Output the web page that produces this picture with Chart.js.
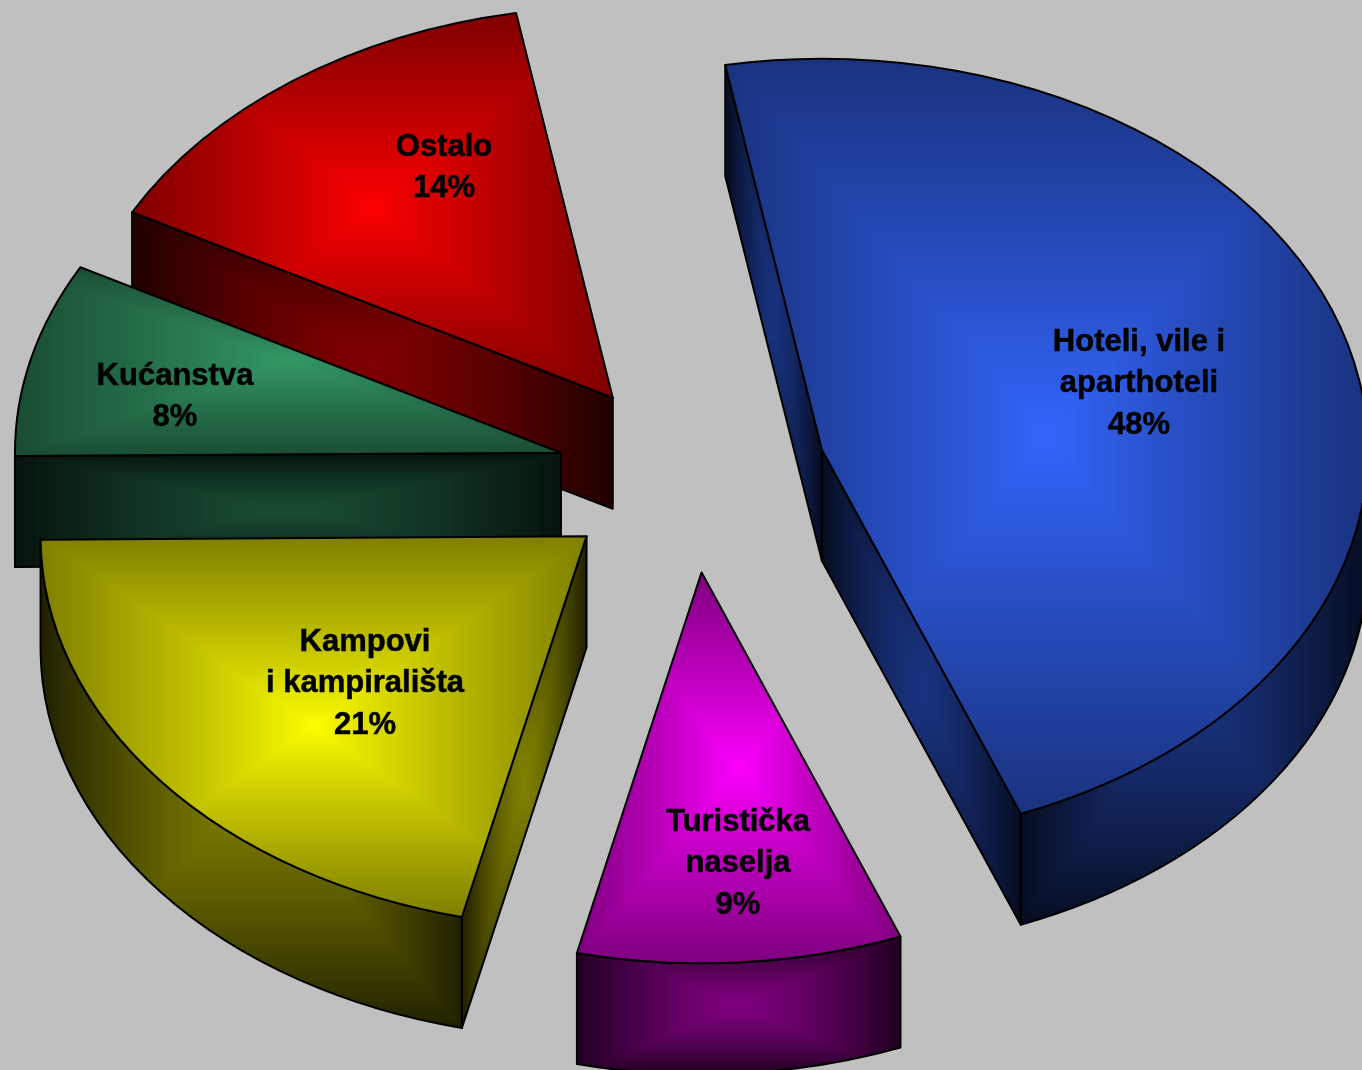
<!DOCTYPE html>
<html lang="hr">
<head>
<meta charset="utf-8">
<title>Struktura smještajnih kapaciteta</title>
<script src="https://cdn.jsdelivr.net/npm/chart.js@4"></script>
<style>
  html, body { margin: 0; padding: 0; background: #C0C0C0; }
  canvas { display: block; }
</style>
</head>
<body>
<canvas id="pie3d" width="1362" height="1070"></canvas>
<script>
// Podaci, redom kazaljke na satu od gornjeg ruba Hotela
var categories = [
  ['Hoteli, vile i', 'aparthoteli'],
  ['Turistička', 'naselja'],
  ['Kampovi', 'i kampirališta'],
  ['Kućanstva'],
  ['Ostalo']
];
// Postoci kako pišu na slici
var percentLabels = ['48%', '9%', '21%', '8%', '14%'];
// Veličine kriški izmjerene s crteža: na izvorniku se kutovi malo razlikuju od ispisanih postotaka
var sliceSizes = [46.9, 9.6, 21.2, 8.0, 14.3];
var sliceColors = ['#3366FF', '#FF00FF', '#FFFF00', '#339966', '#FF0000'];

// Redoslijed crtanja: straga prema naprijed
var drawOrder = [4, 3, 2, 1, 0];

// Prostor: sredina pite na slici, nagib, debljina i razmak kriški
var VIEW = { cx: 692, cy: 476, tilt: 0.716, depth: 111, explode: 135 };
var RADIUS = 546;
var ROTATION = -10.2;

// Sredina prvog retka svakog natpisa
var LABEL_FONT = 'bold 31px "Liberation Sans", Arial, sans-serif';
var LABEL_LEADING = 41.5;
var labelSpots = [[1139, 342], [738, 822], [365, 642], [175, 376], [444, 147]];

function scaleColor(hex, k) {
  var n = parseInt(hex.slice(1), 16);
  return [(n >> 16) & 255, (n >> 8) & 255, n & 255].map(function (c) { return c * k; });
}

// Pravokutni prijelaz "iz sredine" preko okvira lika
function shadeBox(ctx, box, inner, edge, ease) {
  var w = box.x1 - box.x0, h = box.y1 - box.y0;
  var mx = (box.x0 + box.x1) / 2, my = (box.y0 + box.y1) / 2;
  ctx.fillStyle = 'rgb(' + edge.join(',') + ')';
  ctx.fillRect(0, 0, ctx.canvas.width, ctx.canvas.height);
  var steps = 96;
  for (var i = steps - 1; i >= 0; i--) {
    var t = i / steps;
    var m = Math.pow(t, ease);
    var c = [0, 1, 2].map(function (j) { return Math.round(inner[j] + (edge[j] - inner[j]) * m); });
    ctx.fillStyle = 'rgb(' + c.join(',') + ')';
    ctx.fillRect(mx - t * w / 2, my - t * h / 2, t * w, t * h);
  }
}

function boxOf(points) {
  var xs = points.map(function (p) { return p[0]; });
  var ys = points.map(function (p) { return p[1]; });
  return { x0: Math.min.apply(null, xs), x1: Math.max.apply(null, xs), y0: Math.min.apply(null, ys), y1: Math.max.apply(null, ys) };
}

var pie3d = {
  id: 'pie3d',
  beforeDatasetsDraw: function (chart) {
    var ctx = chart.ctx;
    var arcs = chart.getDatasetMeta(0).data;
    var layer = document.createElement('canvas');
    layer.width = chart.canvas.width;
    layer.height = chart.canvas.height;
    var lc = layer.getContext('2d');

    drawOrder.forEach(function (i) {
      var arc = arcs[i];
      var a0 = arc.startAngle, a1 = arc.endAngle, mid = (a0 + a1) / 2;
      var ox = Math.cos(mid) * VIEW.explode, oy = Math.sin(mid) * VIEW.explode;
      var r = arc.outerRadius;

      function rim(a, dy) {
        return [VIEW.cx + ox + Math.cos(a) * r, VIEW.cy + VIEW.tilt * (oy + Math.sin(a) * r) + (dy || 0)];
      }
      var apex = [VIEW.cx + ox, VIEW.cy + VIEW.tilt * oy];
      var ellipseAt = function (c, dy, from, to, ccw) {
        c.ellipse(apex[0], apex[1] + dy, r, r * VIEW.tilt, 0, from, to, ccw);
      };

      // okvir gornje plohe
      var topPts = [apex, rim(a0), rim(a1)];
      [-Math.PI, -Math.PI / 2, 0, Math.PI / 2, Math.PI, 3 * Math.PI / 2].forEach(function (a) {
        if (a > a0 && a < a1) topPts.push(rim(a));
      });
      var base = scaleColor(sliceColors[i], 1);
      var half = scaleColor(sliceColors[i], 0.5);
      var dark = scaleColor(sliceColors[i], 0.13);

      function wall(path, pts) {
        ctx.save();
        ctx.beginPath();
        path();
        ctx.closePath();
        ctx.save();
        ctx.clip();
        shadeBox(ctx, boxOf(pts), half, dark, 1.3);
        ctx.restore();
        ctx.lineWidth = 2;
        ctx.strokeStyle = '#000';
        ctx.lineJoin = 'round';
        ctx.stroke();
        ctx.restore();
      }
      function radialWall(a) {
        var p = rim(a), d = VIEW.depth;
        wall(function () {
          ctx.moveTo(apex[0], apex[1]);
          ctx.lineTo(p[0], p[1]);
          ctx.lineTo(p[0], p[1] + d);
          ctx.lineTo(apex[0], apex[1] + d);
        }, [apex, p, [p[0], p[1] + d], [apex[0], apex[1] + d]]);
      }

      // bočne plohe koje gledaju prema promatraču
      if (Math.cos(a0) < 0) radialWall(a0);
      if (Math.cos(a1) > 0) radialWall(a1);
      var from = Math.max(a0, 0), to = Math.min(a1, Math.PI);
      if (to > from) {
        var pts = [rim(from), rim(to), rim(from, VIEW.depth), rim(to, VIEW.depth)];
        if (from < Math.PI / 2 && to > Math.PI / 2) pts.push(rim(Math.PI / 2, VIEW.depth));
        wall(function () {
          ellipseAt(ctx, 0, from, to, false);
          ellipseAt(ctx, VIEW.depth, to, from, true);
        }, pts);
      }

      // gornja ploha: luk crta sama Chart.js kriška, a boja ide preko nje
      lc.setTransform(1, 0, 0, 1, 0, 0);
      lc.globalCompositeOperation = 'source-over';
      lc.clearRect(0, 0, layer.width, layer.height);
      lc.setTransform(1, 0, 0, VIEW.tilt, VIEW.cx - arc.x + ox, VIEW.cy - VIEW.tilt * arc.y + VIEW.tilt * oy);
      arc.draw(lc);
      lc.setTransform(1, 0, 0, 1, 0, 0);
      lc.globalCompositeOperation = 'source-atop';
      shadeBox(lc, boxOf(topPts), base, half, 0.9);
      ctx.drawImage(layer, 0, 0);

      // obrub gornje plohe
      ctx.save();
      ctx.beginPath();
      ctx.moveTo(apex[0], apex[1]);
      ellipseAt(ctx, 0, a0, a1, false);
      ctx.closePath();
      ctx.lineWidth = 2;
      ctx.lineJoin = 'round';
      ctx.strokeStyle = '#000';
      ctx.stroke();
      ctx.restore();
    });
    return false;
  },
  afterDraw: function (chart) {
    var ctx = chart.ctx;
    ctx.save();
    ctx.font = LABEL_FONT;
    ctx.fillStyle = '#000';
    ctx.strokeStyle = '#000';
    ctx.lineWidth = 0.5;
    ctx.textAlign = 'center';
    ctx.textBaseline = 'middle';
    categories.forEach(function (lines, i) {
      var spot = labelSpots[i];
      lines.concat(percentLabels[i]).forEach(function (text, k) {
        ctx.fillText(text, spot[0], spot[1] + k * LABEL_LEADING);
        ctx.strokeText(text, spot[0], spot[1] + k * LABEL_LEADING);
      });
    });
    ctx.restore();
  }
};

new Chart(document.getElementById('pie3d'), {
  type: 'pie',
  data: {
    labels: categories,
    datasets: [{
      data: sliceSizes,
      backgroundColor: sliceColors,
      borderWidth: 0,
      radius: RADIUS,
      rotation: ROTATION
    }]
  },
  options: {
    responsive: false,
    animation: false,
    devicePixelRatio: 1,
    plugins: { legend: { display: false }, tooltip: { enabled: false } }
  },
  plugins: [pie3d]
});
</script>
</body>
</html>
